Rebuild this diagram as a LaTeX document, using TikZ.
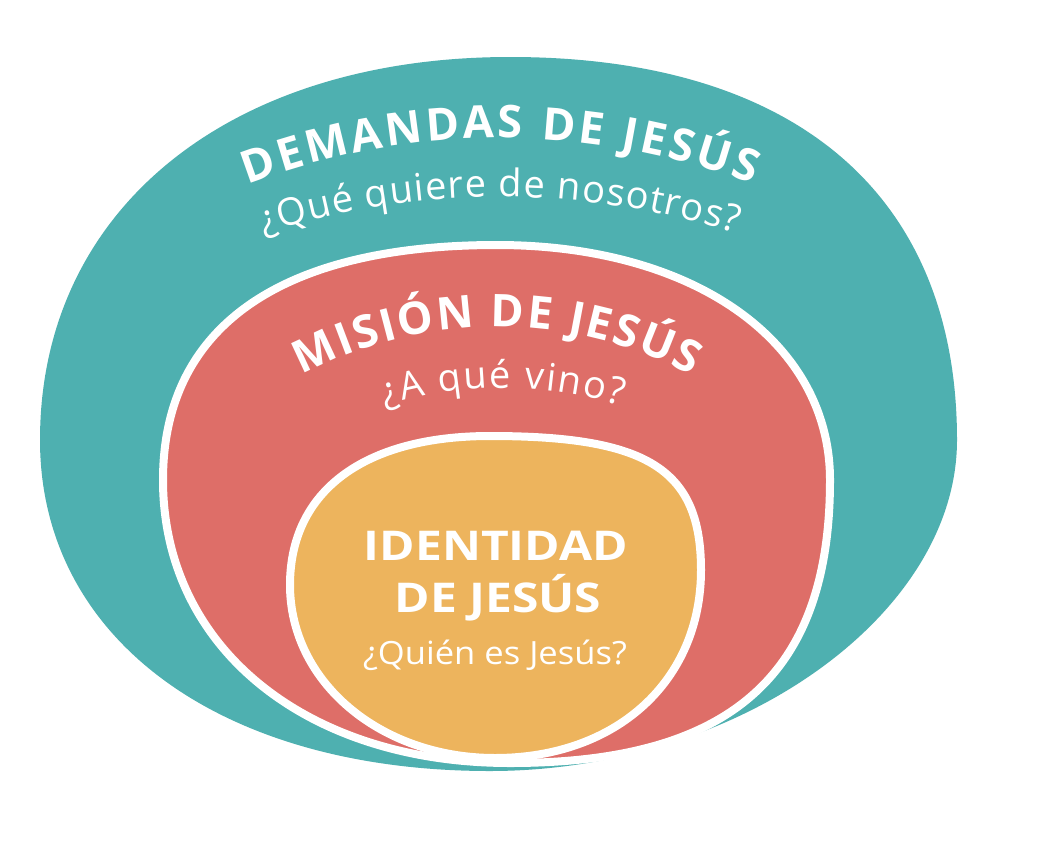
\documentclass[tikz,border=0pt]{standalone}
\usepackage{fontspec}
\setmainfont{Open Sans}
\newfontfamily\titlefam{Open Sans}[FakeStretch=1.17]
\newfontfamily\subfam{Open Sans}[FakeStretch=1.08]
\newfontfamily\arcfam{Open Sans}
\newcommand{\fInner}{\titlefam\bfseries\fontsize{41}{41}\selectfont}
\newcommand{\fSubIn}{\subfam\fontsize{32}{32}\selectfont}
\newcommand{\fArcT}{\arcfam\bfseries\fontsize{45}{45}\selectfont}
\newcommand{\fArcS}{\arcfam\fontsize{38}{38}\selectfont}
\definecolor{tealc}{HTML}{4EB0B0}
\definecolor{redc}{HTML}{DE6E68}
\definecolor{orangec}{HTML}{EDB45D}
\tikzset{
  ring/.style={draw=white, line width=8pt},
  bigtitle/.style={font=\fInner, text=white, anchor=base, inner sep=0pt},
  subtitle/.style={font=\fSubIn, text=white, anchor=base, inner sep=0pt},
  arcchar/.style={anchor=base, inner sep=0pt, text=white}
}
\newcommand{\listDem}{D,E,M,A,N,D,A,S,\ ,D,E,\ ,J,E,S,Ú,S}
\newcommand{\listQue}{¿,Q,u,é,\ ,q,u,i,e,r,e,\ ,d,e,\ ,n,o,s,o,t,r,o,s,?}
\newcommand{\listMis}{M,I,S,I,Ó,N,\ ,D,E,\ ,J,E,S,Ú,S}
\newcommand{\listVin}{¿,A,\ ,q,u,é,\ ,v,i,n,o,?}
\newlength\arcW \newlength\arcS \newcount\arcN
% measure characters (outside the picture): #1 prefix, #2 font, #3 list
\newcommand{\measurearc}[3]{%
  \global\arcW=0pt \global\arcN=0
  \foreach \ch [count=\ci] in #3 {%
    \setbox0=\hbox{#2\ch}%
    \expandafter\xdef\csname arcw@#1@\ci\endcsname{\the\wd0}%
    \global\advance\arcW by \wd0 \global\advance\arcN by 1 }%
  \expandafter\xdef\csname arcW@#1\endcsname{\the\arcW}%
  \expandafter\xdef\csname arcN@#1\endcsname{\the\arcN}}
% place characters: #1 prefix, #2 cx, #3 cy, #4 radius, #5 arc length, #6 font, #7 list
\newcommand{\arctext}[7]{%
  \edef\tw{\csname arcW@#1\endcsname}\edef\tn{\csname arcN@#1\endcsname}%
  \pgfmathsetmacro\trk{(#5-\tw)/(\tn-1)}%
  \global\arcS=0pt
  \foreach \ch [count=\ci] in #7 {%
    \edef\cw{\csname arcw@#1@\ci\endcsname}%
    \pgfmathsetmacro\ang{(\arcS+0.5*\cw-0.5*#5)/#4*180/pi}%
    \pgfmathsetmacro\px{#2+#4*cos(270+\ang)}%
    \pgfmathsetmacro\py{#3+#4*sin(270+\ang)}%
    \node[arcchar, font=#6, rotate=-\ang] (#1-\ci) at (\px,\py) {\ch};
    \global\advance\arcS by \cw \global\advance\arcS by \trk pt }%
}
\begin{document}
\measurearc{dem}{\fArcT}{\listDem}%
\measurearc{que}{\fArcS}{\listQue}%
\measurearc{mis}{\fArcT}{\listMis}%
\measurearc{vin}{\fArcS}{\listVin}%
\begin{tikzpicture}[x=1pt,y=-1pt]
\useasboundingbox (0,0) rectangle (1051,846);
\fill[white] (0,0) rectangle (1051,846);
% outer teal blob
\fill[tealc] (40,440) .. controls (40,210.2) and (228,57) .. (510,57)
  .. controls (796,57) and (957,195) .. (957,440)
  .. controls (957,615.4) and (737.5,771) .. (490,771)
  .. controls (220,771) and (40,638.6) .. (40,440) -- cycle;
% middle red blob
\filldraw[redc, ring] (163,480) .. controls (163,327.25) and (279.9,245) .. (497,245)
  .. controls (693.5,245) and (830,341.35) .. (830,480)
  .. controls (830,675.3) and (730.8,763) .. (510,763)
  .. controls (305.3,763) and (163,647) .. (163,480) -- cycle;
% inner orange blob
\filldraw[orangec, ring] (290,585) .. controls (290,491.1) and (364,436) .. (490,436)
  .. controls (648.25,436) and (701,469.5) .. (701,570)
  .. controls (701,680.9) and (616.5,758) .. (495,758)
  .. controls (380.2,758) and (290,681.9) .. (290,585) -- cycle;
% curved texts
\arctext{dem}{500}{851}{713}{516}{\fArcT}{\listDem}
\arctext{que}{500}{987}{790}{480}{\fArcS}{\listQue}
\arctext{mis}{497}{744}{417}{406}{\fArcT}{\listMis}
\arctext{vin}{503}{797}{409}{240}{\fArcS}{\listVin}
% inner texts
\node[bigtitle] (id1) at (496,560) {IDENTIDAD};
\node[bigtitle] (id2) at (498,612) {DE JESÚS};
\node[subtitle] (id3) at (495,664) {¿Quién es Jesús?};
\end{tikzpicture}
\end{document}
